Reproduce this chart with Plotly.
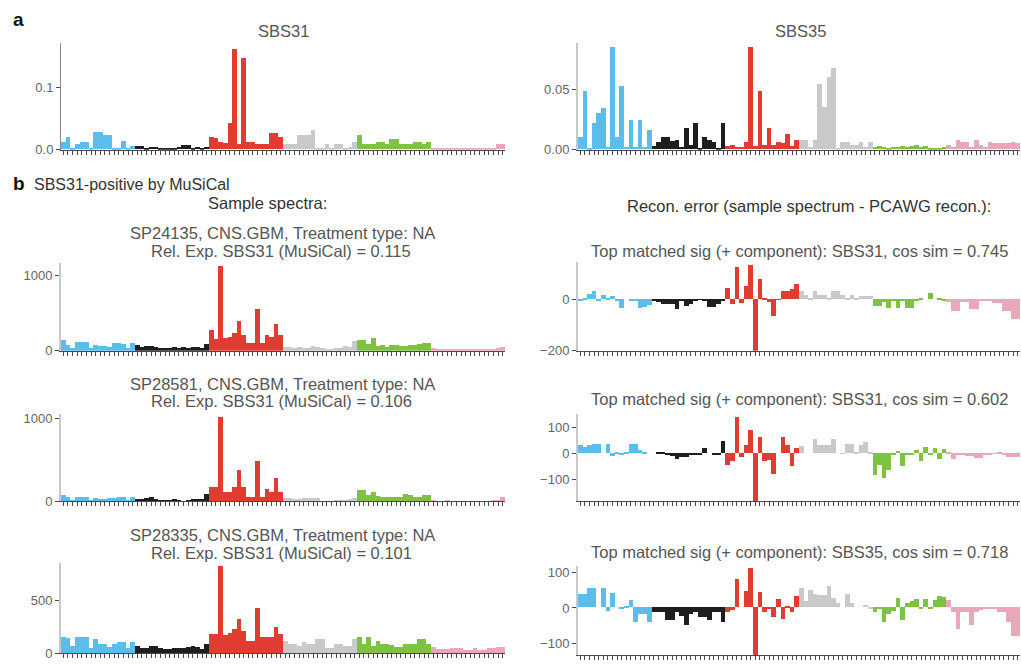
import plotly.graph_objects as go

W, H = 1021, 670

BASES = ["A", "C", "G", "T"]
MUT_TYPES = ["C>A", "C>G", "C>T", "T>A", "T>C", "T>G"]
MUT_COLORS = ["#5BBDEB", "#1E1E1E", "#E03C31", "#C9C9C9", "#7DC243", "#E9A8B8"]
categories = [f"{b5}[{m}]{b3}" for m in MUT_TYPES for b5 in BASES for b3 in BASES]

# ---- Panel a: signatures ----
sbs31 = (
    [0.012, 0.020, 0.002, 0.008, 0.012, 0.012, 0.003, 0.028, 0.028, 0.024, 0.024, 0.003, 0.003, 0.013, 0.003, 0.005]
    + [0.006, 0.006, 0.003, 0.004, 0.004, 0.002, 0.002, 0.003, 0.003, 0.004, 0.007, 0.007, 0.002, 0.004, 0.002, 0.004]
    + [0.020, 0.018, 0.012, 0.011, 0.043, 0.163, 0.008, 0.148, 0.012, 0.012, 0.008, 0.008, 0.008, 0.027, 0.027, 0.020]
    + [0.008, 0.008, 0.008, 0.024, 0.024, 0.024, 0.032, 0.002, 0.003, 0.008, 0.003, 0.008, 0.008, 0.003, 0.004, 0.012]
    + [0.024, 0.008, 0.008, 0.008, 0.012, 0.012, 0.008, 0.016, 0.016, 0.008, 0.008, 0.008, 0.012, 0.012, 0.008, 0.012]
    + [0.003, 0.003, 0.002, 0.002, 0.002, 0.002, 0.002, 0.001, 0.001, 0.002, 0.003, 0.003, 0.003, 0.003, 0.008, 0.008]
)
sbs35 = (
    [0.010, 0.048, 0.001, 0.022, 0.030, 0.034, 0.002, 0.084, 0.010, 0.052, 0.002, 0.024, 0.002, 0.024, 0.002, 0.016]
    + [0.003, 0.006, 0.010, 0.010, 0.007, 0.008, 0.002, 0.018, 0.004, 0.022, 0.001, 0.010, 0.008, 0.006, 0.001, 0.022]
    + [0.003, 0.004, 0.002, 0.002, 0.006, 0.084, 0.003, 0.048, 0.004, 0.018, 0.004, 0.006, 0.005, 0.013, 0.003, 0.008]
    + [0.008, 0.008, 0.002, 0.008, 0.054, 0.035, 0.060, 0.067, 0.001, 0.006, 0.006, 0.004, 0.004, 0.006, 0.002, 0.006]
    + [0.002, 0.003, 0.002, 0.001, 0.002, 0.002, 0.003, 0.002, 0.003, 0.004, 0.002, 0.003, 0.001, 0.001, 0.001, 0.002]
    + [0.004, 0.002, 0.008, 0.006, 0.006, 0.002, 0.008, 0.004, 0.002, 0.006, 0.005, 0.005, 0.005, 0.005, 0.006, 0.005]
)

# ---- Panel b: sample spectra ----
s1_spectrum = (
    [140, 75, 40, 110, 110, 110, 35, 75, 65, 65, 45, 100, 105, 95, 30, 105]
    + [75, 45, 65, 60, 45, 40, 30, 30, 45, 30, 45, 30, 45, 45, 35, 95]
    + [270, 150, 1130, 165, 185, 240, 395, 205, 105, 105, 560, 105, 205, 185, 360, 205]
    + [55, 50, 30, 45, 40, 30, 60, 55, 30, 15, 10, 30, 40, 60, 45, 130]
    + [140, 140, 95, 165, 60, 75, 55, 75, 75, 60, 60, 75, 75, 90, 105, 100]
    + [30, 20, 15, 10, 15, 10, 25, 15, 10, 15, 10, 20, 15, 25, 30, 55]
)
s2_spectrum = (
    [80, 52, 20, 52, 52, 52, 15, 48, 35, 32, 40, 48, 60, 60, 20, 52]
    + [28, 28, 40, 60, 28, 15, 12, 10, 28, 10, 8, 12, 28, 28, 32, 88]
    + [172, 172, 1020, 120, 120, 180, 380, 180, 60, 60, 492, 60, 148, 120, 288, 120]
    + [40, 40, 28, 28, 40, 40, 40, 40, 5, 5, 5, 20, 20, 20, 35, 48]
    + [140, 140, 80, 112, 68, 60, 52, 52, 52, 60, 88, 80, 60, 60, 80, 80]
    + [20, 8, 8, 12, 5, 5, 5, 5, 5, 5, 8, 5, 5, 25, 10, 60]
)
s3_spectrum = (
    [150, 137, 60, 153, 153, 153, 40, 134, 80, 80, 54, 86, 105, 105, 48, 105]
    + [64, 41, 41, 64, 64, 41, 35, 35, 41, 41, 41, 54, 64, 54, 35, 86]
    + [175, 175, 828, 169, 191, 223, 318, 207, 111, 111, 430, 150, 150, 150, 245, 175]
    + [111, 86, 86, 64, 105, 80, 80, 127, 127, 41, 41, 80, 80, 64, 64, 127]
    + [150, 86, 150, 64, 111, 80, 80, 73, 54, 54, 80, 80, 80, 127, 127, 80]
    + [54, 32, 32, 32, 41, 41, 41, 22, 22, 41, 22, 22, 41, 41, 50, 54]
)

# ---- Panel b: reconstruction errors ----
s1_error = (
    [-8, 6, 20, 34, -6, 19, 4, 12, -6, -34, 0, -3, -6, -34, -29, -20]
    + [-6, -10, -19, -19, -19, -38, -6, -25, -16, -3, -2, -5, -29, -29, -19, -6]
    + [44, -19, 127, -13, 53, 135, -200, 80, 6, -9, -66, -2, 34, 34, 40, 62]
    + [32, 16, 2, 32, 16, 16, 2, 34, 34, 19, 3, 19, 3, 13, 13, 13]
    + [-25, -25, -9, -35, -6, -32, -5, -32, -32, -6, 4, 0, 25, 0, 6, -6]
    + [-9, -44, -44, -9, -9, -38, -38, -6, -6, -6, -13, -13, -44, -44, -76, -76]
)
s2_error = (
    [34, 25, 31, 37, 37, 0, 37, -9, 4, -4, 4, 37, 37, 12, 2, 0]
    + [0, 2, 3, -4, -9, -21, -14, -14, -5, -4, -4, 19, 0, -4, -4, 46]
    + [-44, -31, 138, -12, 31, 88, -181, 62, -31, -25, -79, 0, 62, 31, -50, 19]
    + [29, 0, 0, 56, 31, 31, 31, 56, 0, -2, 37, 37, 2, 31, 44, 2]
    + [-81, -44, -96, -62, -4, 9, -50, -4, -4, 12, -31, 25, -6, 19, -22, 16]
    + [4, -22, -4, -4, -10, -10, -19, -19, -6, -4, -2, 3, -8, -12, -12, -12]
)
s3_error = (
    [37, 37, 56, 56, 0, 56, -9, 42, 0, -2, 2, 21, -42, -19, -19, -42]
    + [-14, -14, -14, -34, -34, -14, -23, -49, -19, -14, -28, -28, -34, -14, -14, -42]
    + [-14, -6, 79, 0, 46, 111, -134, 44, -14, -5, -28, 23, -32, 3, -14, 32]
    + [56, 19, 49, 37, 34, 34, 62, 28, 14, 0, 37, 14, 0, 0, 6, -4]
    + [-14, -5, -40, -19, -9, 28, -34, 14, 19, 23, -5, 23, -5, 21, 32, 30]
    + [21, -14, -62, -14, -14, -48, -14, -6, -4, -4, -4, -14, -14, -42, -81, -81]
)

bar_colors = [MUT_COLORS[MUT_TYPES.index(c[2:5])] for c in categories]
positions = list(range(len(categories)))  # slot index of each trinucleotide context

TEXT_FONT = "Liberation Sans, Arial, Helvetica, sans-serif"
TITLE_SIZE = 16.5

# panel: (values, x0, x1, y0, y1 in px, y range, tick values, tick labels, y-axis line colour)
panels = [
    (sbs31, 61, 505, 42, 150, [0, 0.172], [0, 0.1], ["0.0", "0.1"], "#8a8a8a"),
    (sbs35, 578, 1020, 42, 150, [0, 0.0877], [0, 0.05], ["0.00", "0.05"], "#c8c8c8"),
    (s1_spectrum, 61, 505, 265, 354, [0, 1171], [0, 1000], ["0", "1000"], "#c8c8c8"),
    (s1_error, 578, 1020, 264, 354, [-200, 146], [-200, 0], ["\u2212200", "0"], "#c8c8c8"),
    (s2_spectrum, 61, 505, 418, 507, [0, 1060], [0, 1000], ["0", "1000"], "#c8c8c8"),
    (s2_error, 578, 1020, 418, 507, [-185, 151], [-100, 0, 100], ["\u2212100", "0", "100"], "#c8c8c8"),
    (s3_spectrum, 61, 505, 570, 661, [0, 858], [0, 500], ["0", "500"], "#c8c8c8"),
    (s3_error, 578, 1020, 573, 663, [-133, 117], [-100, 0, 100], ["\u2212100", "0", "100"], "#c8c8c8"),
]

fig = go.Figure()
layout_axes = {}
for i, (vals, x0, x1, y0, y1, yr, tv, tt, ylc) in enumerate(panels, start=1):
    sfx = "" if i == 1 else str(i)
    fig.add_trace(go.Bar(
        x=positions, y=vals, hovertext=categories,
        marker=dict(color=bar_colors, line=dict(width=0)),
        xaxis="x" + sfx, yaxis="y" + sfx, showlegend=False, hoverinfo="text+y",
    ))
    layout_axes["xaxis" + sfx] = dict(
        domain=[x0 / W, x1 / W], anchor="y" + sfx, type="linear",
        range=[-0.5, len(categories) - 0.5], showticklabels=False, showgrid=False, zeroline=False,
        showline=True, linecolor="#4a4a4a", linewidth=1,
        ticks="outside", ticklen=4, tickwidth=1, tickcolor="#4a4a4a",
        tickmode="linear", tick0=0, dtick=1,
        fixedrange=True,
    )
    layout_axes["yaxis" + sfx] = dict(
        domain=[1 - y1 / H, 1 - y0 / H], anchor="x" + sfx, range=yr,
        showgrid=False, zeroline=False, showline=True, linecolor=ylc,
        linewidth=2 if ylc != "#8a8a8a" else 1,
        ticks="outside", ticklen=4, tickwidth=1, tickcolor="#4a4a4a",
        tickmode="array", tickvals=tv, ticktext=tt,
        tickfont=dict(family=TEXT_FONT, size=13, color="#666666"), fixedrange=True,
    )

annotations = []


def add_text(text, x, y, size=TITLE_SIZE, color="#555555", bold=False, xanchor="center"):
    annotations.append(dict(
        text=("<b>%s</b>" % text) if bold else text,
        x=x / W, y=1 - y / H, xref="paper", yref="paper",
        xanchor=xanchor, yanchor="middle", showarrow=False,
        font=dict(family=TEXT_FONT, size=size, color=color),
    ))


add_text("a", 11, 18, size=19, color="#111111", bold=True, xanchor="left")
add_text("SBS31", 283, 29)
add_text("SBS35", 800, 29)
add_text("b", 11, 184, size=19, color="#111111", bold=True, xanchor="left")
add_text("SBS31-positive by MuSiCal", 32, 185, size=16, color="#333333", xanchor="left")
add_text("Sample spectra:", 267, 204, color="#333333")
add_text("Recon. error (sample spectrum - PCAWG recon.):", 809, 207, color="#333333")

add_text("SP24135, CNS.GBM, Treatment type: NA", 282, 235)
add_text("Rel. Exp. SBS31 (MuSiCal) = 0.115", 281, 253)
add_text("Top matched sig (+ component): SBS31, cos sim = 0.745", 799, 253)

add_text("SP28581, CNS.GBM, Treatment type: NA", 282, 388)
add_text("Rel. Exp. SBS31 (MuSiCal) = 0.106", 281, 405)
add_text("Top matched sig (+ component): SBS31, cos sim = 0.602", 799, 403)

add_text("SP28335, CNS.GBM, Treatment type: NA", 282, 541)
add_text("Rel. Exp. SBS31 (MuSiCal) = 0.101", 281, 559)
add_text("Top matched sig (+ component): SBS35, cos sim = 0.718", 799, 558)

fig.update_layout(
    width=W, height=H, margin=dict(l=0, r=0, t=0, b=0),
    paper_bgcolor="white", plot_bgcolor="white",
    bargap=0, showlegend=False, annotations=annotations,
    font=dict(family=TEXT_FONT, color="#555555"),
    **layout_axes,
)

fig.write_html("out.html")
